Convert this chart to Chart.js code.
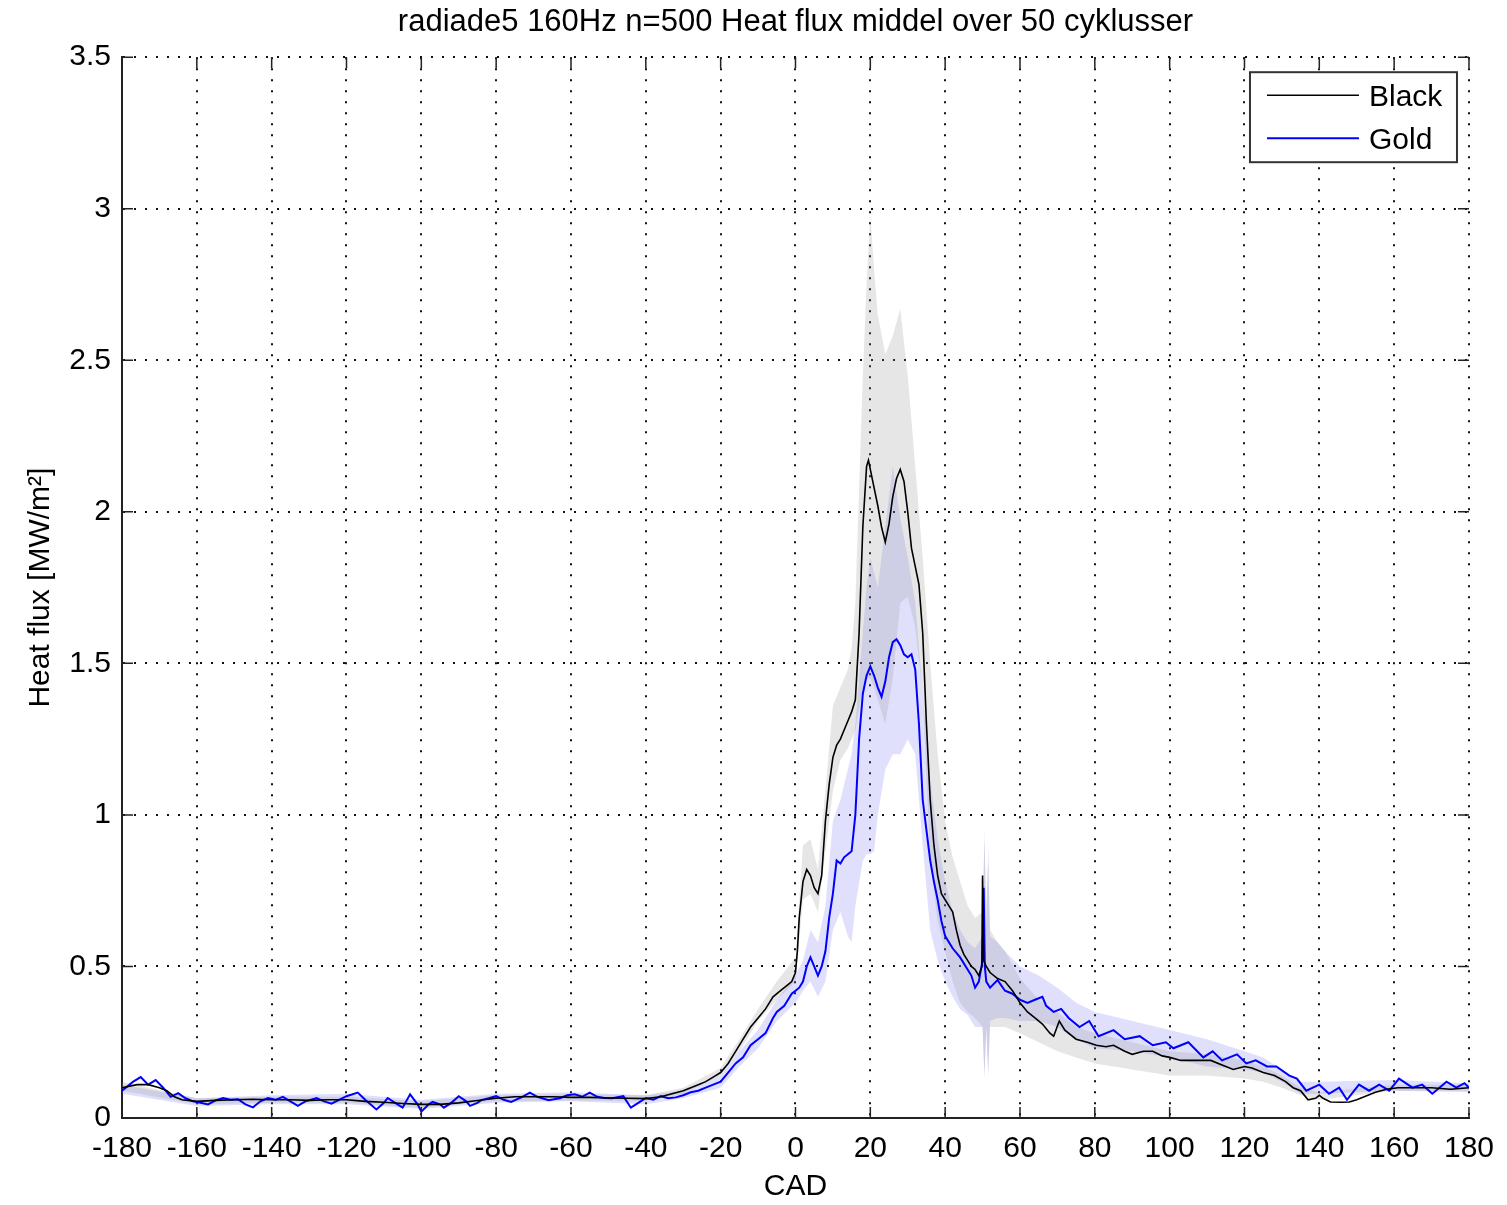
<!DOCTYPE html>
<html>
<head>
<meta charset="utf-8">
<script src="https://cdn.jsdelivr.net/npm/chart.js@4.4.1/dist/chart.umd.min.js"></script>
<style>
  html, body { margin: 0; padding: 0; background: #fff; }
  #wrap { width: 1507px; height: 1205px; }
</style>
</head>
<body>
<div id="wrap"><canvas id="myChart" width="1507" height="1205"></canvas></div>
<script>
// mean heat flux, Black coating
const blackCad = [-180,-176,-173,-170,-168,-166,-164,-160,-155,-150,-145,-140,-135,-130,-125,-120,-115,-110,-105,-100,-95,-90,-85,-80,-75,-70,-65,-60,-55,-50,-45,-40,-36,-33,-30,-28,-26,-24,-22,-20,-18,-16,-14,-12,-10,-8,-6,-4,-2,-1,0,0.5,1,2,3,4,5,6,7,8,9,10,11,12,13,14,15,16,17,18,19,19.5,20,21,22,23,24,25,26,27,28,29,30,31,32,33,34,35,36,37,38,39,40,41,42,43,44,45,46,47,48,49,49.8,50,50.3,51,52,54,56,58,60,62,64,66,68,69,70.5,72,75,78,80.4,83,85,88,90,93,95.5,98,100,103,105,108,111,114,117,120,122,125,128,131,133,135,137,139,140,141,143,146,148,150,152,155,158,161,165,170,175,180];
const blackFlux = [0.10,0.11,0.11,0.10,0.09,0.07,0.06,0.055,0.058,0.06,0.062,0.06,0.06,0.058,0.06,0.06,0.055,0.052,0.048,0.045,0.045,0.05,0.058,0.065,0.07,0.07,0.07,0.068,0.068,0.066,0.065,0.064,0.07,0.08,0.09,0.10,0.11,0.12,0.135,0.15,0.18,0.22,0.26,0.30,0.33,0.36,0.40,0.42,0.44,0.45,0.48,0.55,0.66,0.78,0.82,0.80,0.76,0.74,0.80,0.98,1.10,1.19,1.23,1.25,1.28,1.31,1.34,1.38,1.60,1.95,2.15,2.17,2.14,2.08,2.02,1.95,1.90,1.96,2.05,2.11,2.14,2.10,2.00,1.88,1.82,1.76,1.60,1.30,1.05,0.90,0.80,0.74,0.72,0.70,0.68,0.62,0.57,0.54,0.52,0.50,0.49,0.47,0.50,0.80,0.52,0.50,0.48,0.46,0.45,0.42,0.38,0.35,0.33,0.31,0.28,0.27,0.32,0.29,0.26,0.25,0.24,0.235,0.24,0.22,0.21,0.22,0.22,0.205,0.20,0.19,0.19,0.19,0.19,0.175,0.16,0.17,0.165,0.15,0.14,0.12,0.10,0.09,0.06,0.065,0.075,0.065,0.053,0.052,0.053,0.06,0.07,0.085,0.095,0.10,0.10,0.10,0.095,0.10];

// mean heat flux, Gold coating
const goldCad = [-180,-177,-175,-173,-171,-169,-167,-165,-163,-161,-159,-157,-155,-153,-151,-149,-147,-145,-143,-141,-139,-137,-135,-133,-131,-128,-126,-124,-122,-120,-117,-115,-112,-110,-109,-107,-105,-103,-101,-100,-98,-97,-95,-94,-92,-90,-88,-87,-85,-84,-82,-80,-78,-76,-73,-71,-69,-66,-63,-61,-59,-57,-55,-53,-51,-49,-46,-44,-42,-40,-38,-36,-34,-32,-30,-28,-26,-24,-22,-20,-18,-16,-14,-12,-10,-8,-6,-5,-3,-2,-1,0,1,2,3,4,5,6,7,8,9,10,11,12,13,14,15,16,17,18,19,20,21,22,23,24,25,26,27,28,29,30,31,32,33,34,35,36,37,38,39,40,42,44,46,47,48,49,50,50.3,50.6,51,52,54,56,58,60,62,64,66,67,69,71,73,75.9,78.5,81,85,88,92,95.5,99,101,105,109,111.5,114,118,120.5,123,126,128.5,132,134,136.5,140,142.6,145.3,147.4,150.6,153.3,156,158.7,161.3,164.9,167.5,170.2,174,176.6,178.8,180];
const goldFlux = [0.09,0.12,0.135,0.11,0.125,0.10,0.07,0.082,0.065,0.055,0.05,0.045,0.058,0.066,0.06,0.062,0.045,0.035,0.055,0.066,0.06,0.07,0.055,0.04,0.055,0.066,0.055,0.047,0.06,0.072,0.084,0.06,0.028,0.05,0.066,0.05,0.034,0.078,0.045,0.021,0.045,0.053,0.045,0.034,0.05,0.072,0.055,0.04,0.05,0.059,0.065,0.072,0.06,0.053,0.07,0.084,0.07,0.059,0.065,0.075,0.078,0.07,0.084,0.07,0.066,0.065,0.072,0.034,0.05,0.066,0.06,0.072,0.065,0.068,0.075,0.085,0.09,0.10,0.11,0.12,0.15,0.18,0.20,0.24,0.26,0.28,0.33,0.35,0.37,0.39,0.41,0.42,0.43,0.45,0.50,0.53,0.50,0.47,0.50,0.55,0.66,0.74,0.85,0.84,0.86,0.87,0.88,1.00,1.25,1.40,1.46,1.49,1.46,1.42,1.39,1.44,1.52,1.57,1.58,1.56,1.53,1.52,1.53,1.48,1.30,1.05,0.95,0.85,0.78,0.72,0.65,0.60,0.56,0.53,0.49,0.47,0.43,0.45,0.52,0.76,0.50,0.45,0.43,0.455,0.42,0.41,0.39,0.38,0.39,0.40,0.37,0.35,0.36,0.33,0.30,0.32,0.27,0.29,0.26,0.27,0.24,0.25,0.23,0.25,0.20,0.22,0.19,0.21,0.18,0.19,0.17,0.17,0.14,0.13,0.09,0.11,0.08,0.10,0.06,0.11,0.09,0.11,0.09,0.13,0.10,0.11,0.08,0.12,0.10,0.115,0.10];

// spread over the 50 cycles (shaded bands)
const bandCad = [-180,-160,-140,-120,-100,-80,-60,-40,-30,-20,-15,-10,-5,0,2,4,6,8,10,12,14,15,16,18,19,20,21,22,24,26,28,30,32,34,36,38,40,42,44,46,48,50,50.5,51,51.5,52,54,56,60,65,70,75,80,90,100,110,120,125,130,135,140,160,180];
const blackLow  = [0.09,0.045,0.05,0.05,0.035,0.055,0.058,0.055,0.08,0.14,0.22,0.32,0.39,0.45,0.72,0.74,0.68,0.88,1.08,1.18,1.22,1.25,1.28,1.42,1.45,1.45,1.42,1.38,1.30,1.45,1.70,1.72,1.62,1.40,0.85,0.65,0.55,0.45,0.38,0.35,0.33,0.30,0.14,0.30,0.14,0.30,0.30,0.30,0.28,0.25,0.22,0.20,0.18,0.16,0.14,0.14,0.13,0.12,0.10,0.075,0.06,0.09,0.09];
const blackHigh = [0.12,0.065,0.07,0.07,0.055,0.075,0.078,0.075,0.10,0.165,0.26,0.36,0.45,0.53,0.90,0.92,0.82,1.08,1.36,1.42,1.48,1.55,1.70,2.45,2.75,2.98,2.80,2.65,2.52,2.58,2.67,2.45,2.15,1.85,1.50,1.20,0.98,0.86,0.78,0.70,0.66,0.68,0.92,0.70,0.85,0.62,0.58,0.55,0.46,0.39,0.35,0.30,0.28,0.25,0.22,0.21,0.19,0.17,0.14,0.10,0.085,0.11,0.11];
const goldLow   = [0.08,0.04,0.045,0.045,0.03,0.05,0.055,0.045,0.065,0.10,0.17,0.23,0.32,0.38,0.42,0.45,0.40,0.45,0.62,0.68,0.60,0.58,0.70,0.85,0.87,0.87,0.88,1.00,1.15,1.20,1.20,1.25,1.20,0.90,0.62,0.52,0.45,0.40,0.36,0.34,0.30,0.30,0.13,0.30,0.15,0.32,0.33,0.33,0.32,0.32,0.30,0.26,0.23,0.22,0.20,0.17,0.16,0.15,0.12,0.08,0.08,0.09,0.085];
const goldHigh  = [0.11,0.065,0.075,0.08,0.06,0.08,0.085,0.075,0.09,0.14,0.22,0.29,0.39,0.47,0.52,0.62,0.58,0.70,0.98,1.05,1.15,1.20,1.30,1.60,1.75,1.85,1.80,1.75,1.95,2.15,1.98,1.85,1.70,1.40,1.12,0.92,0.78,0.68,0.62,0.58,0.56,0.60,0.95,0.62,0.90,0.60,0.58,0.55,0.50,0.47,0.43,0.38,0.35,0.32,0.29,0.26,0.22,0.20,0.16,0.12,0.12,0.125,0.115];

const xTicks = [-180, 180, 20];
const yTicks = [0, 3.5, 0.5];

function pts(xs, ys) {
    return xs.map((x, i) => ({x: x, y: ys[i]}));
}

Chart.defaults.font.family = "'Liberation Sans', Arial, sans-serif";
Chart.defaults.color = '#000';

// MATLAB style inward tick marks on all four sides
const insideTicks = {
    id: 'insideTicks',
    afterDraw(chart) {
        const ctx = chart.ctx, a = chart.chartArea;
        const sx = chart.scales.x, sy = chart.scales.y;
        ctx.save();
        ctx.strokeStyle = '#222';
        ctx.lineWidth = 1.5;
        ctx.beginPath();
        sx.ticks.forEach(t => {
            const px = sx.getPixelForValue(t.value);
            ctx.moveTo(px, a.bottom); ctx.lineTo(px, a.bottom - 11);
            ctx.moveTo(px, a.top); ctx.lineTo(px, a.top + 11);
        });
        sy.ticks.forEach(t => {
            const py = sy.getPixelForValue(t.value);
            ctx.moveTo(a.left, py); ctx.lineTo(a.left + 11, py);
            ctx.moveTo(a.right, py); ctx.lineTo(a.right - 11, py);
        });
        ctx.stroke();
        ctx.restore();
    }
};

// legend box in the top right corner
const boxLegend = {
    id: 'boxLegend',
    afterDraw(chart) {
        const ctx = chart.ctx, a = chart.chartArea;
        const w = 207, h = 90;
        const x0 = a.right - 12 - w, y0 = a.top + 15;
        ctx.save();
        ctx.fillStyle = '#fff';
        ctx.fillRect(x0, y0, w, h);
        ctx.strokeStyle = '#333';
        ctx.lineWidth = 2;
        ctx.strokeRect(x0, y0, w, h);
        const items = [chart.data.datasets[0], chart.data.datasets[1]];
        items.forEach((ds, i) => {
            const yy = y0 + 23 + i * 43;
            ctx.strokeStyle = ds.borderColor;
            ctx.lineWidth = ds.borderWidth;
            ctx.beginPath();
            ctx.moveTo(x0 + 17, yy);
            ctx.lineTo(x0 + 109, yy);
            ctx.stroke();
            ctx.fillStyle = '#000';
            ctx.font = "30px 'Liberation Sans', Arial, sans-serif";
            ctx.textBaseline = 'middle';
            ctx.fillText(ds.label, x0 + 119, yy + 3);
        });
        ctx.restore();
    }
};

let chart = document.getElementById('myChart').getContext('2d');

let myChart = new Chart(chart, {
    type: 'line',
    data: {
        datasets: [{
            label: 'Black',
            data: pts(blackCad, blackFlux),
            borderColor: '#000000',
            borderWidth: 1.6,
            pointRadius: 0,
            fill: false
        }, {
            label: 'Gold',
            data: pts(goldCad, goldFlux),
            borderColor: '#0000ff',
            borderWidth: 2,
            pointRadius: 0,
            fill: false
        }, {
            label: 'Black low',
            data: pts(bandCad, blackLow),
            borderColor: 'rgba(0,0,0,0)',
            borderWidth: 0,
            pointRadius: 0,
            fill: false
        }, {
            label: 'Black high',
            data: pts(bandCad, blackHigh),
            borderColor: 'rgba(0,0,0,0)',
            borderWidth: 0,
            pointRadius: 0,
            backgroundColor: 'rgba(140,140,140,0.22)',
            fill: 2
        }, {
            label: 'Gold low',
            data: pts(bandCad, goldLow),
            borderColor: 'rgba(0,0,0,0)',
            borderWidth: 0,
            pointRadius: 0,
            fill: false
        }, {
            label: 'Gold high',
            data: pts(bandCad, goldHigh),
            borderColor: 'rgba(0,0,0,0)',
            borderWidth: 0,
            pointRadius: 0,
            backgroundColor: 'rgba(100,100,240,0.2)',
            fill: 4
        }]
    },
    options: {
        responsive: false,
        animation: false,
        layout: { padding: { left: 0, right: 37, top: 0, bottom: 0 } },
        plugins: {
            legend: { display: false },
            tooltip: { enabled: false },
            filler: { drawTime: 'beforeDatasetsDraw' },
            title: {
                display: true,
                fullSize: false,
                text: 'radiade5 160Hz n=500 Heat flux middel over 50 cyklusser',
                font: { size: 31, weight: 'normal' },
                color: '#000',
                padding: { top: 4, bottom: 16 }
            }
        },
        scales: {
            x: {
                type: 'linear',
                min: xTicks[0],
                max: xTicks[1],
                afterFit: (scale) => { scale.height = 87; },
                ticks: { stepSize: xTicks[2], font: { size: 30 }, padding: 13, maxRotation: 0, autoSkip: false, color: '#000' },
                grid: { color: '#111', lineWidth: 2, drawTicks: false },
                border: { display: true, color: '#222', width: 2, dash: [2, 9] },
                title: { display: true, text: 'CAD', font: { size: 30 }, color: '#000', padding: { top: 0, bottom: 0 } }
            },
            y: {
                min: yTicks[0],
                max: yTicks[1],
                afterFit: (scale) => { scale.width = 122; },
                ticks: {
                    stepSize: yTicks[2], font: { size: 30 }, padding: 11, color: '#000',
                    callback: (v) => String(Number(v))
                },
                grid: { color: '#111', lineWidth: 2, drawTicks: false },
                border: { display: true, color: '#222', width: 2, dash: [2, 9] },
                title: { display: true, text: 'Heat flux [MW/m²]', font: { size: 30 }, color: '#000', padding: { top: 23, bottom: 0 } }
            }
        }
    },
    plugins: [insideTicks, boxLegend]
});
</script>
</body>
</html>
